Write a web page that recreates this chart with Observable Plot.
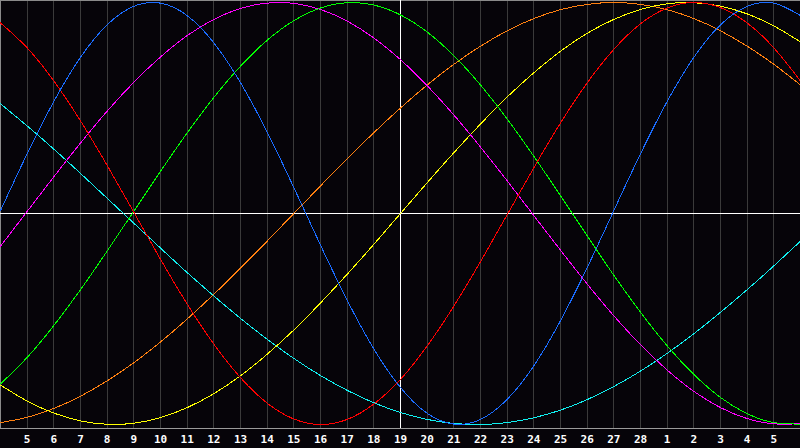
<!DOCTYPE html>
<html>
<head>
<meta charset="utf-8">
<script src="https://cdn.jsdelivr.net/npm/d3@7"></script>
<script src="https://cdn.jsdelivr.net/npm/@observablehq/plot@0.6"></script>
<style>
  html, body { margin: 0; padding: 0; background: #060409; overflow: hidden; }
  svg path, svg line { shape-rendering: crispEdges; }
</style>
</head>
<body>
<div id="chart"></div>
<script>
// Day positions (0 = first day at the left edge, 30 = right edge)
const dayIndex = [0,1,2,3,4,5,6,7,8,9,10,11,12,13,14,15,16,17,18,19,20,21,22,23,24,25,26,27,28,29,30];
// Tick positions and labels (Feb 5 ... Feb 28, Mar 1 ... Mar 5)
const tickDays = [1,2,3,4,5,6,7,8,9,10,11,12,13,14,15,16,17,18,19,20,21,22,23,24,25,26,27,28,29];
const tickLabels = ["5","6","7","8","9","10","11","12","13","14","15","16","17","18","19","20","21","22","23","24","25","26","27","28","1","2","3","4","5"];
const todayIndex = 15;

// Cycle values (-1 .. 1), one per day
const physical = [0.014,0.283,0.531,0.740,0.894,0.982,0.997,0.938,0.809,0.620,0.386,0.123,-0.150,-0.411,-0.642,-0.825,-0.947,-0.998,-0.976,-0.881,-0.722,-0.508,-0.257,0.014,0.283,0.531,0.740,0.894,0.982,0.997,0.938];
const emotional = [0.903,0.785,0.628,0.439,0.228,0.006,-0.217,-0.429,-0.619,-0.778,-0.899,-0.974,-1.000,-0.976,-0.903,-0.786,-0.628,-0.439,-0.228,-0.006,0.217,0.429,0.619,0.778,0.899,0.974,1.000,0.976,0.903,0.785,0.628];
const intellectual = [-0.808,-0.682,-0.531,-0.361,-0.178,0.011,0.200,0.382,0.550,0.698,0.821,0.914,0.974,0.999,0.988,0.941,0.860,0.748,0.609,0.448,0.271,0.084,-0.106,-0.293,-0.468,-0.627,-0.763,-0.872,-0.949,-0.991,-0.998];
const intuitive = [-0.155,0.010,0.174,0.334,0.485,0.622,0.742,0.843,0.920,0.972,0.997,0.996,0.967,0.912,0.832,0.729,0.606,0.467,0.315,0.155,-0.010,-0.174,-0.334,-0.485,-0.622,-0.742,-0.843,-0.920,-0.972,-0.997,-0.996];
const aesthetic = [-0.813,-0.889,-0.946,-0.983,-0.999,-0.994,-0.967,-0.920,-0.854,-0.769,-0.667,-0.552,-0.424,-0.288,-0.146,0.000,0.146,0.288,0.424,0.552,0.667,0.769,0.854,0.920,0.967,0.994,0.999,0.983,0.946,0.889,0.813];
const awareness = [-0.991,-0.966,-0.924,-0.866,-0.793,-0.707,-0.609,-0.500,-0.383,-0.259,-0.131,0.000,0.131,0.259,0.383,0.500,0.609,0.707,0.793,0.866,0.924,0.966,0.991,1.000,0.991,0.966,0.924,0.866,0.793,0.707,0.609];
const spiritual = [0.520,0.415,0.305,0.190,0.072,-0.046,-0.164,-0.280,-0.391,-0.497,-0.596,-0.687,-0.768,-0.838,-0.897,-0.943,-0.976,-0.995,-1.000,-0.991,-0.968,-0.932,-0.882,-0.820,-0.747,-0.663,-0.570,-0.468,-0.361,-0.248,-0.131];

const seriesNames = ["Spiritual","Awareness","Aesthetic","Intuitive","Intellectual","Emotional","Physical"];
const seriesColors = ["#10f0f0","#ff8010","#ffff00","#ff00ff","#00ff00","#ff0000","#1a6cff"];
const seriesValues = [spiritual, awareness, aesthetic, intuitive, intellectual, emotional, physical];

const rows = [];
seriesNames.forEach((name, i) => {
  seriesValues[i].forEach((v, j) => rows.push({series: name, day: dayIndex[j], value: v}));
});

const yDomain = [-1.019, 1.0095];
const xDomain = [dayIndex[0], dayIndex[dayIndex.length - 1]];

const chart = Plot.plot({
  width: 800,
  height: 448,
  marginTop: 0,
  marginRight: 0,
  marginBottom: 20,
  marginLeft: 0,
  style: {background: "#060409", color: "white", fontFamily: "DejaVu Sans Mono", fontSize: "11px", fontWeight: "bold"},
  x: {domain: xDomain, axis: null, label: null},
  y: {domain: yDomain, axis: null, label: null},
  color: {domain: seriesNames, range: seriesColors},
  marks: [
    Plot.ruleX(tickDays, {stroke: "#3a3a3a", strokeWidth: 1}),
    Plot.ruleY([yDomain[1]], {stroke: "#8a8a8a"}),
    Plot.ruleX([xDomain[0]], {stroke: "#8a8a8a"}),
    Plot.ruleY([yDomain[0]], {stroke: "#9a9a9a"}),
    Plot.ruleX([todayIndex], {stroke: "white"}),
    Plot.ruleY([0], {stroke: "white"}),
    Plot.line(rows, {x: "day", y: "value", z: "series", stroke: "series", strokeWidth: 1, curve: "natural"}),
    Plot.axisX(tickDays, {label: null, tickSize: 0, tickPadding: 7, tickFormat: k => tickLabels[k - 1], fill: "white", fontWeight: "bold", fontFamily: "DejaVu Sans Mono", fontSize: 11})
  ]
});
document.getElementById("chart").appendChild(chart);
</script>
</body>
</html>
